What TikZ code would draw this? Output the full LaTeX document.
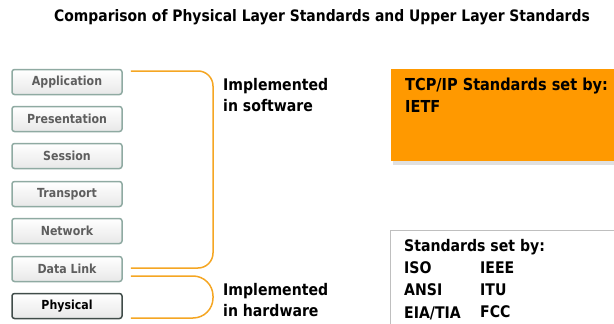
\documentclass[tikz,border=0pt]{standalone}
\usepackage{fontspec}
\setmainfont{DejaVu Sans}[FakeStretch=0.88]
\definecolor{brk}{HTML}{F5A623}
\definecolor{orng}{HTML}{FF9900}
\definecolor{lyrborder}{HTML}{8FAAA2}
\definecolor{lyrtext}{HTML}{5E5E5E}
\begin{document}
\begin{tikzpicture}[x=1pt,y=-1pt,
  layer/.style={draw=lyrborder,line width=1.5pt,rounded corners=2.5pt,top color=white,bottom color=black!9,
    minimum width=110pt,minimum height=25pt,inner sep=0pt,font=\bfseries\fontsize{12.5}{14}\selectfont,text=lyrtext},
  phys/.style={layer,draw=black!55!lyrborder,text=black},
  brace/.style={draw=brk,line width=1.5pt},
  lbl/.style={anchor=north west,align=left,inner sep=0pt,font=\bfseries\fontsize{16}{21}\selectfont},
  stdtxt/.style={anchor=north west,align=left,inner sep=0pt,font=\bfseries\fontsize{16}{22.3}\selectfont}]
\useasboundingbox (0,0) rectangle (614,324);
\node[font=\bfseries\fontsize{15.8}{18}\selectfont] (title) at (322,17) {Comparison of Physical Layer Standards and Upper Layer Standards};
\node[layer] (app) at (67,82) {Application};
\node[layer] (pre) at (67,119) {Presentation};
\node[layer] (ses) at (67,156) {Session};
\node[layer] (tra) at (67,194) {Transport};
\node[layer] (net) at (67,231) {Network};
\node[layer] (dl) at (67,269) {Data Link};
\node[phys] (phy) at (67,306) {Physical};
\coordinate (bx) at (213,0);
\coordinate (s1) at ([xshift=8pt,yshift=11pt]app.east);
\coordinate (s2) at ([xshift=8pt,yshift=1pt]dl.east);
\coordinate (h1) at ([xshift=8pt,yshift=-7pt]dl.east);
\coordinate (h2) at ([xshift=8pt,yshift=-12pt]phy.east);
\draw[brace,rounded corners=15pt] (s1) -| (s2 -| bx) -- (s2);
\draw[brace,rounded corners=20pt] (h1) -| (h2 -| bx) -- (h2);
\node[lbl] (sw) at (223,77.8) {Implemented\\in software};
\node[lbl] (hw) at (223,282.8) {Implemented\\in hardware};
\fill[black!12] (393,72) rectangle (620,165);
\node[fill=orng,anchor=north west,minimum width=230pt,minimum height=92pt] (tcp) at (391,69) {};
\node[stdtxt,font=\bfseries\fontsize{16.5}{22}\selectfont] (tcpt) at (405,77.5) {TCP/IP Standards set by:\\IETF};
\node[draw=black!25,line width=1.2pt,fill=white,anchor=north west,minimum width=230pt,minimum height=100pt] (std) at (390,230) {};
\node[stdtxt] (stdt) at (404,238.8) {Standards set by:\\ISO\\ANSI\\EIA/TIA};
\node[stdtxt] (stdt2) at (480,261.3) {IEEE\\ITU\\FCC};
\end{tikzpicture}
\end{document}
